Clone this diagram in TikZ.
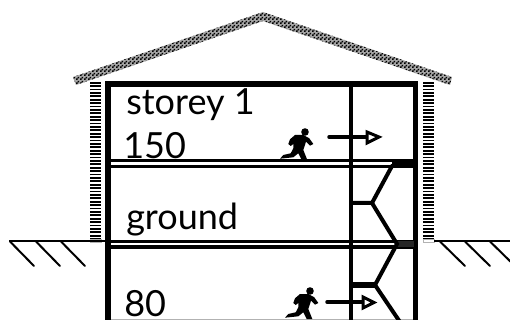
\documentclass[tikz,border=0pt]{standalone}
\usepackage{fontspec}
\setmainfont{Lato}
\usetikzlibrary{patterns}
\pgfdeclarepatternformonly{finecheck}{\pgfpointorigin}{\pgfqpoint{3pt}{3pt}}{\pgfqpoint{3pt}{3pt}}{%
  \pgfpathrectangle{\pgfpointorigin}{\pgfqpoint{1.5pt}{1.5pt}}%
  \pgfpathrectangle{\pgfqpoint{1.5pt}{1.5pt}}{\pgfqpoint{1.5pt}{1.5pt}}%
  \pgfusepath{fill}}
\tikzset{
  px/.style={line width=#1*0.75pt},
  wall/.style={px=5.5,line cap=butt},
  floorline/.style={px=3},
  stair/.style={px=4,line cap=round},
  ground/.style={px=2.5},
  hatchline/.style={px=2,line cap=round},
  gutter/.style={px=11,dash pattern=on 1.3pt off 1.25pt},
  label/.style={inner sep=0pt,anchor=base west,font=\fontsize{27}{27}\selectfont},
  flow/.style={px=3.5,line cap=round},
  flowhead/.style={draw,fill=white,px=3},
}
\newcommand{\runner}[2]{%
  \begin{scope}[shift={(#1,#2)}]
    \fill (305,132) circle (3.8);
    \fill (295,135) -- (303.3,135) -- (309.3,138.3) -- (313.3,144) -- (310,145.7) -- (306,141.7)
      -- (303.3,150) -- (307.3,160) -- (301.7,160) -- (298.3,153.3) -- (293.3,157.3)
      -- (280,158.7) -- (283.3,155) -- (290.7,153.3) -- (293.3,148.3) -- (293.3,144)
      -- (290.7,146) -- (288.3,144) -- (290,139.3) -- cycle;
  \end{scope}}
\begin{document}
\begin{tikzpicture}[x=0.75pt,y=-0.75pt]
\useasboundingbox (0,0) rectangle (510,320);
\clip (0,0) rectangle (510,320);
% roof
\fill[black!35] (73,77) -- (263,12) -- (452,77) -- (450,85) -- (263,21) -- (76,85) -- cycle;
\path[pattern=finecheck] (73,77) -- (263,12) -- (452,77) -- (450,85) -- (263,21) -- (76,85) -- cycle;
% gutters
\draw[gutter] (95.5,240) -- (95.5,81);
\draw[gutter] (428.5,240) -- (428.5,82);
\draw[draw=gray!60,px=1] (90,243) rectangle (101,240);
\draw[draw=gray!60,px=1] (423,243) rectangle (434,240);
% ground
\draw[ground] (9,241) -- (105,241);
\draw[ground] (434,241) -- (510,241);
\foreach \a/\b in {10/34,36/60,61/85,440/465,465/490,490/515}
  \draw[hatchline] (\a,241.5) -- (\b,266);
% frame
\draw[draw=gray!60,px=1] (111,319.5) -- (413,319.5);
\draw[wall] (108,322) -- (108,84) -- (415.5,84) -- (415.5,322);
\draw[px=4] (350.5,84) -- (350.5,322);
% floors
\draw[floorline] (108,161) -- (415,161);
\draw[floorline] (108,167) -- (415,167);
\draw[floorline] (108,241.5) -- (415,241.5);
\draw[px=3.5] (108,247) -- (415,247);
\fill (392,160) rectangle (414,167);
\fill[black!85] (397,241) rectangle (414,247);
% stairs
\draw[stair] (392,166) -- (372,203) -- (352,203);
\draw[stair] (372,203) -- (397,244) -- (375,285);
\draw[px=5.5] (350,285) -- (375,285);
\draw[stair] (375,285) -- (402,325);
% runners and arrows
\runner{0}{0}
\runner{5}{159}
\draw[flow] (329,137) -- (367,137);
\draw[flowhead] (367,132) -- (379,137) -- (367,143) -- cycle;
\draw[flow] (327,302) -- (363,302);
\draw[flowhead] (363,297) -- (374,302.5) -- (363,308) -- cycle;
% labels
\node[label] (s1) at (126,115) {storey 1};
\node[label] (n150) at (123,159) {150};
\node[label] (gr) at (126,229) {ground};
\node[label] (n80) at (124,316) {80};
\end{tikzpicture}
\end{document}
